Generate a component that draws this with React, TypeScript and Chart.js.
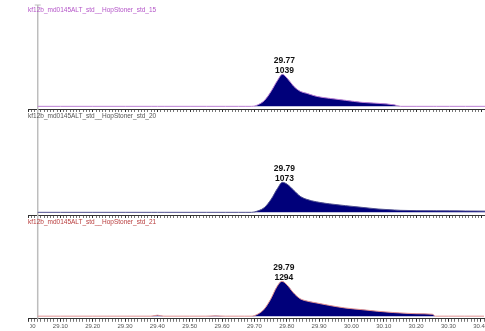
import React, { useEffect, useRef } from 'react';
import { Chart, registerables } from 'chart.js';

Chart.register(...registerables);

// Retention times (min)
const times = [29.03, 29.10, 29.20, 29.30, 29.38, 29.40, 29.42, 29.50, 29.55, 29.58, 29.61, 29.65, 29.67, 29.69, 29.71, 29.73, 29.75, 29.77, 29.785, 29.80, 29.82, 29.84, 29.86, 29.89, 29.93, 29.98, 30.03, 30.08, 30.13, 30.15, 30.20, 30.25, 30.26, 30.30, 30.35, 30.41];

// Intensities for the three injections
const trace15 = [0, 0, 0, 0, 0, 0, 0, 0, 0, 0, 0, 0, 0, 0, 50, 180, 450, 780, 960, 840, 600, 450, 390, 300, 240, 180, 120, 90, 45, 0, 0, 0, 0, 0, 0, 0];
const trace20 = [0, 0, 0, 0, 0, 0, 0, 0, 0, 0, 0, 0, 0, 0, 45, 150, 390, 720, 900, 840, 660, 480, 390, 315, 255, 200, 150, 100, 70, 60, 50, 48, 47, 45, 40, 36];
const trace21 = [0, 0, 0, 0, 0, 30, 0, 0, 0, 10, 0, 0, 0, 0, 60, 210, 510, 900, 1060, 960, 720, 540, 465, 405, 330, 250, 200, 150, 110, 100, 75, 60, 0, 0, 0, 0];

const titles = [
  'kf12b_md0145ALT_std__HopStoner_std_15',
  'kf12b_md0145ALT_std__HopStoner_std_20',
  'kf12b_md0145ALT_std__HopStoner_std_21',
];
const peakTimes = ['29.77', '29.79', '29.79'];
const peakAreas = ['1039', '1073', '1294'];

const X_MIN = 29.0;
const X_MAX = 30.41;
const Y_MIN = -80;
const Y_MAX = 2770;

const series = [trace15, trace20, trace21];
const traceColors = ['#bb80d4', '#505090', '#e09090'];
const titleColors = ['#b455c8', '#555555', '#b83c3c'];
const FILL = '#00007a';

const panels = [
  { top: 0, height: 112, padTop: 14, titleY: 10, lineTop: 5, labels: false },
  { top: 112, height: 106, padTop: 8, titleY: 4, lineTop: 0, labels: false },
  { top: 218, height: 113, padTop: 7, titleY: 4, lineTop: 0, labels: true },
];

const isMajor = (v: number) => Math.abs(v * 10 - Math.round(v * 10)) < 1e-6;

function makePlugin(i: number) {
  const p = panels[i];
  return {
    id: 'deco' + i,
    beforeDatasetsDraw(chart: any) {
      const ctx = chart.ctx;
      const x = chart.scales.x.getPixelForValue(times[0]);
      const bottom = p.labels ? chart.chartArea.bottom : chart.height;
      ctx.save();
      ctx.strokeStyle = '#bdbdbd';
      ctx.lineWidth = 1.5;
      ctx.beginPath();
      ctx.moveTo(x, p.lineTop);
      ctx.lineTo(x, bottom);
      ctx.stroke();
      if (i === 0) {
        ctx.lineWidth = 1;
        ctx.beginPath();
        ctx.moveTo(x - 3, p.lineTop);
        ctx.lineTo(x + 3, p.lineTop);
        ctx.stroke();
      }
      ctx.restore();
    },
    afterDraw(chart: any) {
      const ctx = chart.ctx;
      ctx.save();
      // title
      ctx.fillStyle = titleColors[i];
      ctx.font = '6.5px "Liberation Sans", Arial, sans-serif';
      ctx.textBaseline = 'middle';
      ctx.textAlign = 'left';
      ctx.fillText(titles[i], 28, p.titleY);
      // peak label
      const data = series[i];
      let k = 0;
      for (let j = 1; j < data.length; j++) if (data[j] > data[k]) k = j;
      const px = chart.scales.x.getPixelForValue(times[k]) + 2;
      const py = chart.scales.y.getPixelForValue(data[k]);
      ctx.fillStyle = '#111';
      ctx.font = 'bold 8.5px "Liberation Sans", Arial, sans-serif';
      ctx.textAlign = 'center';
      ctx.textBaseline = 'alphabetic';
      ctx.fillText(peakAreas[i], px, py - 1.5);
      ctx.fillText(peakTimes[i], px, py - 11.5);
      // clip the leftmost tick label like the original crop
      if (p.labels) {
        ctx.fillStyle = '#ffffff';
        ctx.fillRect(0, chart.chartArea.bottom + 3.5, 30, chart.height);
      }
      ctx.restore();
    },
  };
}

function makeChart(canvas: HTMLCanvasElement, i: number) {
  const p = panels[i];
  return new Chart(canvas, {
    type: 'line',
    data: {
      datasets: [
        {
          data: times.map((t, k) => ({ x: t, y: series[i][k] })),
          borderColor: traceColors[i],
          borderWidth: 1,
          backgroundColor: FILL,
          fill: 'origin',
          pointRadius: 0,
          cubicInterpolationMode: 'monotone',
        },
      ],
    },
    options: {
      animation: false,
      responsive: false,
      maintainAspectRatio: false,
      events: [],
      layout: { padding: { left: 28, right: 0, top: p.padTop, bottom: 0 } },
      plugins: { legend: { display: false }, tooltip: { enabled: false } },
      scales: {
        x: {
          type: 'linear',
          min: X_MIN,
          max: X_MAX,
          border: { display: true, color: '#333333', width: 1 },
          grid: {
            display: true,
            drawOnChartArea: false,
            drawTicks: true,
            tickLength: 3,
            color: (c: any) => (c.tick && isMajor(c.tick.value) ? '#333333' : '#777777'),
            lineWidth: 1,
          },
          ticks: {
            display: p.labels,
            stepSize: 0.01,
            autoSkip: false,
            maxRotation: 0,
            minRotation: 0,
            padding: 1,
            color: '#555555',
            font: { size: 6, family: '"Liberation Sans", Arial, sans-serif' },
            callback: (v: any) => (isMajor(Number(v)) ? Number(v).toFixed(2) : ''),
          },
        },
        y: { display: false, min: Y_MIN, max: Y_MAX },
      },
    } as any,
    plugins: [makePlugin(i)],
  } as any);
}

export default function App() {
  const r0 = useRef<HTMLCanvasElement>(null);
  const r1 = useRef<HTMLCanvasElement>(null);
  const r2 = useRef<HTMLCanvasElement>(null);
  const refs = [r0, r1, r2];

  useEffect(() => {
    const charts = refs.map((r, i) => makeChart(r.current as HTMLCanvasElement, i));
    return () => charts.forEach((c) => c.destroy());
  }, []);

  return (
    <div style={{ position: 'fixed', left: 0, top: 0, width: 485, height: 331, background: '#ffffff' }}>
      {panels.map((p, i) => (
        <canvas
          key={i}
          ref={refs[i]}
          width={485}
          height={p.height}
          style={{ position: 'absolute', left: 0, top: p.top, width: 485, height: p.height, display: 'block' }}
        />
      ))}
    </div>
  );
}
